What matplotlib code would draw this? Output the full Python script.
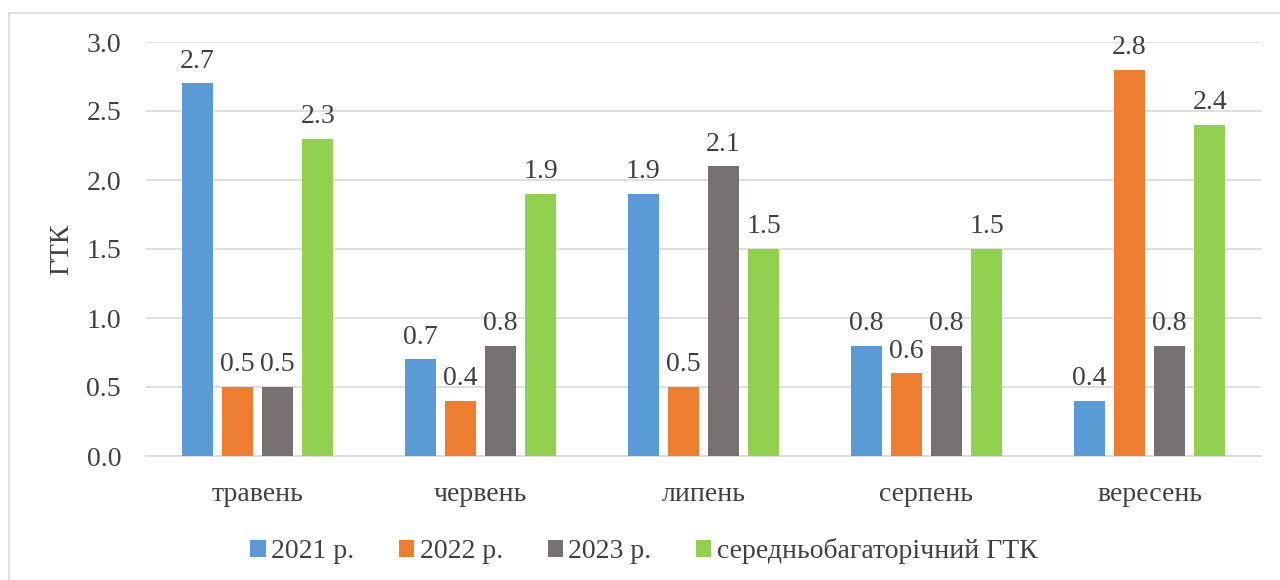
import matplotlib.pyplot as plt
import numpy as np
from matplotlib.patches import Rectangle

months = ["травень", "червень", "липень", "серпень", "вересень"]
series_names = ["2021 р.", "2022 р.", "2023 р.", "середньобагаторічний ГТК"]
gtk_2021 = [2.7, 0.7, 1.9, 0.8, 0.4]
gtk_2022 = [0.5, 0.4, 0.5, 0.6, 2.8]
gtk_2023 = [0.5, 0.8, 2.1, 0.8, 0.8]
gtk_avg = [2.3, 1.9, 1.5, 1.5, 2.4]
colors = ["#5B9BD5", "#ED7D31", "#767171", "#92D050"]

plt.rcParams['font.family'] = ['Liberation Serif', 'DejaVu Serif']
text_color = "#404040"
fs = 20

fig = plt.figure(figsize=(12.8, 5.8), dpi=100)
ax = fig.add_axes([146/1280, 1 - 456/580, (1261-146)/1280, (456-42)/580])

# outer chart border (Excel style)
fig.patches.append(Rectangle((9/1280, -0.05), 1.1, 1 - 13/580 + 0.05, transform=fig.transFigure,
                             fill=False, edgecolor="#D9D9D9", linewidth=1.2))

x = np.arange(len(months))
width = 0.14
offsets = [-0.27, -0.09, 0.09, 0.27]
for vals, off, col, name in zip([gtk_2021, gtk_2022, gtk_2023, gtk_avg], offsets, colors, series_names):
    bars = ax.bar(x + off, vals, width, color=col, label=name, zorder=3)
    for b, v in zip(bars, vals):
        ax.text(b.get_x() + b.get_width()/2, v + 0.07, f"{v:.1f}", ha="center", va="bottom",
                fontsize=fs, color=text_color)

ax.set_xlim(-0.5, 4.5)
ax.set_ylim(0, 3.0)
ax.set_yticks(np.arange(0, 3.01, 0.5))
ax.set_yticklabels([f"{t:.1f}" for t in np.arange(0, 3.01, 0.5)])
ax.set_xticks(x)
ax.set_xticklabels(months)
ax.yaxis.grid(True, color="#D9D9D9", linewidth=1.2, zorder=0)
for s in ["top", "right", "left"]:
    ax.spines[s].set_visible(False)
ax.spines["bottom"].set_color("#D9D9D9")
ax.spines["bottom"].set_linewidth(1.2)
ax.tick_params(axis="both", length=0, labelsize=fs, labelcolor=text_color)
ax.tick_params(axis="y", pad=18)
ax.tick_params(axis="x", pad=19)
ax.set_ylabel("ГТК", fontsize=fs, color=text_color, labelpad=9)

ax.legend(loc="center", bbox_to_anchor=(644/1280, 1 - 551/580), bbox_transform=fig.transFigure,
          ncol=4, frameon=False, fontsize=fs, handlelength=0.55, handleheight=0.55,
          handletextpad=0.2, columnspacing=1.6, labelcolor=text_color)

fig.savefig("out.png", dpi=100)
